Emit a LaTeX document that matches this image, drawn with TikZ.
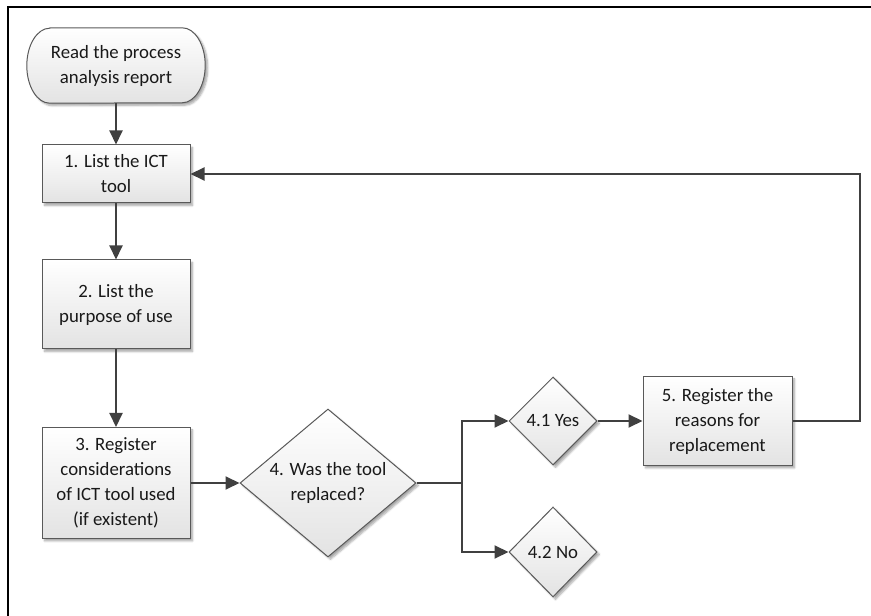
\documentclass[tikz,border=0pt]{standalone}
\usepackage{fontspec}
\setmainfont{Carlito}
\usetikzlibrary{arrows.meta,shapes.geometric,shadows.blur}
\begin{document}
\begin{tikzpicture}[x=1pt,y=1pt,
  every node/.style={font=\fontsize{18.8}{25}\selectfont, text=black!90},
  shapefill/.style={draw=black!65, line width=1pt, top color=white, bottom color=black!11,
    blur shadow={shadow xshift=2.5pt, shadow yshift=-2.5pt, shadow blur steps=6, shadow opacity=35}},
  procbox/.style={rectangle, shapefill, align=center, inner sep=0pt},
  decision/.style={diamond, shapefill, inner sep=0pt, aspect=1},
  txt/.style={align=center, inner sep=0pt},
  conn/.style={draw=black!75, line width=2pt, -{Triangle[length=14pt,width=13pt]}},
  plain/.style={draw=black!75, line width=2pt},
  frame/.style={draw=black, line width=2.5pt}
]
\useasboundingbox (0,0) rectangle (871,616);
% outer frame (only left and top edges visible)
\coordinate (fbl) at (8,0);
\coordinate (ftl) at (8,609);
\coordinate (ftr) at (871,609);
\draw[frame] (fbl) -- (ftl) -- (ftr);

% start terminator
\node[txt, minimum width=178pt, minimum height=75pt] (start) at (116,550.5) {};
\path[shapefill] ([xshift=23pt]start.north west) -- ([xshift=-23pt]start.north east)
  arc[start angle=90, end angle=-90, x radius=23pt, y radius=37.5pt]
  -- ([xshift=23pt]start.south west)
  arc[start angle=270, end angle=90, x radius=23pt, y radius=37.5pt] -- cycle;
\node[txt] (startt) at (start) {Read the process\\analysis report};

% process boxes
\node[procbox, minimum width=148pt, minimum height=58pt] (b1) at (116,442) {1. List the ICT\\tool};
\node[procbox, minimum width=148pt, minimum height=89pt] (b2) at (116,311.5) {2. List the\\purpose of use};
\node[procbox, minimum width=148pt, minimum height=111pt] (b3) at (116,133) {3. Register\\considerations\\of ICT tool used\\(if existent)};
\node[procbox, minimum width=149pt, minimum height=89pt] (b5) at (717.5,195) {5. Register the\\reasons for\\replacement};

% decisions
\node[decision, minimum width=176pt, minimum height=148pt] (d4) at (328,133) {};
\node[txt] (d4t) at (d4) {4. Was the tool\\replaced?};
\node[decision, minimum width=88pt, minimum height=88pt] (yes) at (553,195) {};
\node[txt] (yest) at (yes) {4.1 Yes};
\node[decision, minimum width=88pt, minimum height=90pt] (no) at (553,64) {};
\node[txt] (not) at (no) {4.2 No};

% helper coordinates
\coordinate (j) at (462,133);
\coordinate (rt) at (860,442);

% connectors
\draw[conn] (start) -- (b1);
\draw[conn] (b1) -- (b2);
\draw[conn] (b2) -- (b3);
\draw[conn] (b3.east) -- (d4.west);
\draw[plain] (d4.east) -- (j);
\draw[conn] (j) |- (yes.west);
\draw[conn] (j) |- (no.west);
\draw[conn] (yes.east) -- (b5.west);
\draw[conn] (b5.east) -| (rt) -- (b1.east);
\end{tikzpicture}
\end{document}
